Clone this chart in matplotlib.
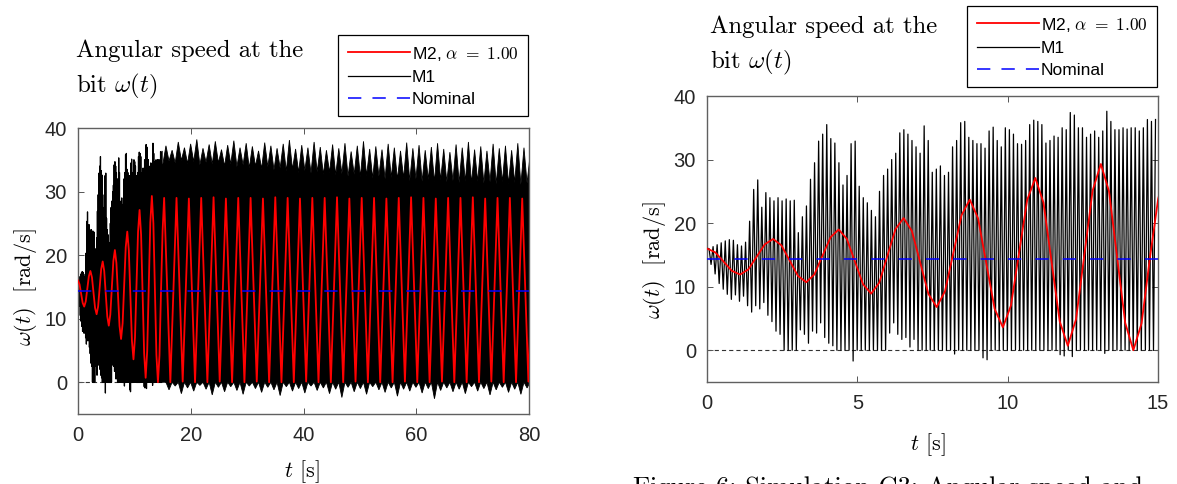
import numpy as np
import matplotlib
matplotlib.use('Agg')
import matplotlib.pyplot as plt
from matplotlib.lines import Line2D

plt.rcParams['mathtext.fontset'] = 'cm'
plt.rcParams['font.family'] = ['Liberation Sans', 'DejaVu Sans']
plt.rcParams['lines.scale_dashes'] = False
plt.rcParams['axes.unicode_minus'] = False

# ---------------- data ----------------
nominal_speed = 14.4

# M1: one trough and one peak per stick-slip cycle, 0-15 s
m1_period = 0.135
m1_troughs = [16.0, 13.5, 12.0, 10.5, 9.6, 8.8, 8.0,
              8.7, 7.7, 8.5, 7.0, 6.0, 7.0, 6.5, 7.5,
              5.5, 4.5, 3.0, 2.5, 0.0, 0.0, 0.0,
              0.0, 3.2, 2.5, 1.1, 3.0, 2.7, 4.3, 2.0,
              1.1, 0.7, 0.0, 0.0, 0.0, 0.0, -1.7,
              0.0, 0.0, 0.0, 0.0, 0.0, 0.0, 0.0, 0.0,
              2.7, 4.3, 2.5, 1.7, 2.0, 0.5, 1.7,
              0.0, 0.0, 0.0, 0.0, 0.0, 0.0, 0.0, 0.0,
              0.0, -0.6, 0.0, 0.0, 0.0, 0.0, 0.0,
              0.0, -1.2, -1.5, 0.0, 0.0, 0.0, 0.0, 0.0,
              0.0, 0.0, 0.0, 0.0, 0.0, 0.0, 0.0,
              0.0, 0.0, 0.0, 0.0, 0.0, -0.7, -0.9, 0.0,
              -1.0, 0.0, 0.0, 0.0, 0.0, 0.0, 0.0,
              0.0, -0.5, 0.0, 0.0, 0.0, 0.0, 0.0,
              0.0, 0.0, 0.0, 0.0, 0.0, 0.0, 0.0]
m1_peaks = [16.0, 16.3, 16.6, 16.9, 17.2, 17.4, 17.3,
            16.6, 16.4, 17.0, 20.3, 25.3, 26.8, 22.5, 24.8,
            24.0, 23.5, 24.0, 23.5, 23.8, 23.5, 23.6,
            18.5, 21.0, 22.7, 26.9, 29.5, 32.9, 34.0, 35.5,
            33.3, 32.6, 29.5, 26.0, 27.5, 32.5, 32.9,
            25.8, 24.0, 23.2, 22.0, 21.0, 25.0, 27.5, 28.5,
            30.0, 31.0, 34.2, 34.7, 34.0, 33.0, 32.0,
            31.0, 35.3, 33.0, 28.0, 28.5, 29.0, 27.5, 28.0,
            32.0, 33.0, 35.8, 36.0, 33.5, 33.0, 32.5,
            32.5, 31.8, 34.5, 35.1, 33.0, 32.0, 35.0, 34.7,
            34.0, 32.5, 32.4, 33.0, 35.5, 36.2, 36.0,
            35.5, 32.6, 33.0, 33.7, 33.5, 35.0, 34.7, 37.4,
            37.0, 35.0, 35.0, 33.5, 34.0, 34.5, 33.5,
            34.5, 37.6, 36.0, 34.7, 34.7, 35.0, 34.8,
            35.0, 35.0, 34.5, 35.0, 36.3, 36.0, 36.3]

# M1 beyond 15 s (only visible as a dense band in the 80 s view):
# band top between spikes, spike tops, band floor and dips below zero
m1_band_floor = 0.0
m1_spike_start = 15.6
m1_spike_step = 1.095
m1_band_top = [34.3, 34.8, 34.5, 34.9, 34.4, 34.7, 34.2, 34.6, 34.3, 34.5,
               34.0, 34.3, 33.9, 34.2, 33.7, 34.0, 33.6, 33.9, 33.4, 33.7,
               33.2, 33.5, 33.0, 33.3, 32.9, 33.1, 32.7, 33.0, 32.6, 32.8,
               32.4, 32.7, 32.3, 32.5, 32.1, 32.4, 32.0, 32.2, 31.9, 32.1,
               31.7, 32.0, 31.6, 31.9, 31.5, 31.8, 31.5, 31.7, 31.4, 31.6,
               31.3, 31.6, 31.3, 31.5, 31.2, 31.5, 31.2, 31.4, 31.1, 31.3]
m1_spike_hi = [37.2, 36.5, 37.8, 36.9, 37.5, 38.2, 36.8, 37.4, 37.9, 36.6,
               37.3, 38.0, 36.9, 37.6, 37.1, 36.4, 37.7, 37.2, 36.8, 37.5,
               38.1, 36.7, 37.3, 36.9, 37.8, 37.0, 36.5, 37.4, 36.8, 37.6,
               36.3, 37.2, 37.9, 36.7, 37.1, 36.6, 37.5, 36.9, 36.4, 37.7,
               36.8, 37.3, 36.5, 37.0, 37.6, 36.7, 36.2, 37.4, 36.9, 37.8,
               36.6, 37.1, 36.4, 37.5, 36.8, 37.2, 36.5, 37.6, 36.9, 35.8]
m1_spike_lo = [-1.2, -0.6, -1.8, -0.9, -1.4, -0.5, -1.1, -2.0, -0.8, -1.5,
               -0.7, -1.3, -1.9, -0.6, -1.0, -1.6, -0.8, -1.2, -2.1, -0.7,
               -1.4, -1.0, -1.7, -0.6, -1.3, -0.9, -1.8, -1.1, -2.4, -0.8,
               -1.5, -1.0, -1.9, -0.7, -1.2, -1.6, -0.9, -2.2, -1.1, -1.4,
               -0.8, -1.7, -1.0, -2.6, -1.3, -0.9, -1.5, -1.1, -1.8, -0.7,
               -1.4, -1.0, -2.0, -1.2, -0.8, -1.6, -1.1, -1.9, -0.9, -1.3]

# M2 (alpha = 1.00), 0-15.3 s read densely
m2_t = [0.0, 0.275, 0.55, 0.825, 1.1, 1.375, 1.65, 1.925, 2.2,
        2.475, 2.75, 3.025, 3.3, 3.57, 3.84, 4.11, 4.38,
        4.65, 4.92, 5.19, 5.46, 5.73, 6.0, 6.27, 6.54,
        6.815, 7.09, 7.365, 7.64, 7.915, 8.19, 8.465, 8.74,
        9.015, 9.29, 9.565, 9.84, 10.11, 10.38, 10.65, 10.92,
        11.19, 11.46, 11.73, 12.0, 12.275, 12.55, 12.825, 13.1,
        13.37, 13.64, 13.91, 14.18, 14.455, 14.73, 15.005, 15.28]
m2_v = [16.0, 15.4, 13.95, 12.5, 11.9, 12.72, 14.7, 16.68, 17.5,
        16.5, 14.1, 11.7, 10.7, 11.92, 14.85, 17.78, 19.0,
        17.52, 13.95, 10.38, 8.9, 10.64, 14.85, 19.06, 20.8,
        18.75, 13.8, 8.85, 6.8, 9.27, 15.25, 21.23, 23.7,
        20.76, 13.65, 6.54, 3.6, 7.04, 15.35, 23.66, 27.1,
        23.23, 13.9, 4.57, 0.7, 4.89, 15.0, 25.11, 29.3,
        25.01, 14.65, 4.29, 0.0, 4.25, 14.5, 23.8, 29.0]
# M2 beyond 15.3 s: alternating troughs / peaks every half period
m2_tail_start = 16.38
m2_tail_half = 1.095
m2_tail_troughs = [0.0, 0.1, 0.0, 0.0, 0.1, 0.0, 0.0, 0.1, 0.0, 0.0,
                   0.0, 0.1, 0.0, 0.0, 0.0, 0.1, 0.0, 0.0, 0.0, 0.1,
                   0.0, 0.0, 0.1, 0.0, 0.0, 0.0, 0.1, 0.0, 0.0, 0.1]
m2_tail_peaks = [29.0, 28.9, 29.0, 29.1, 28.9, 29.0, 29.0, 28.9, 29.1, 29.0,
                 28.9, 29.0, 29.0, 29.1, 28.9, 29.0, 29.0, 28.9, 29.0, 29.1,
                 29.0, 28.9, 29.0, 29.0, 29.1, 28.9, 29.0, 29.0, 28.9, 29.0]

# ---------------- assemble series ----------------
def interleave(a, b):
    out = np.empty(len(a) + len(b))
    out[0::2] = a
    out[1::2] = b
    return out


n1 = len(m1_peaks)
cyc = np.arange(n1) * m1_period
m1_t = interleave(cyc, cyc + m1_period / 2)
m1_v = interleave(m1_troughs, m1_peaks)

nt = len(m2_tail_peaks)
tail_t = m2_tail_start + np.arange(2 * nt) * m2_tail_half
tail_v = interleave(m2_tail_troughs, m2_tail_peaks)
m2_all_t = np.concatenate([m2_t, tail_t])
m2_all_v = np.concatenate([m2_v, tail_v])

ns = len(m1_spike_hi)
sp_t = m1_spike_start + np.arange(ns) * m1_spike_step
up_t = np.concatenate([[14.9], interleave(sp_t - m1_spike_step / 2, sp_t), [80.5]])
up_v = np.concatenate([[m1_band_top[0]], interleave(m1_band_top, m1_spike_hi), [m1_band_top[-1]]])
dip_t = sp_t + m1_spike_step / 2
lo_t = np.concatenate([[14.9], interleave(dip_t - m1_spike_step / 2, dip_t), [80.5]])
lo_v = np.concatenate([[m1_band_floor], interleave(np.full(ns, m1_band_floor), m1_spike_lo),
                       [m1_band_floor]])
band_x = np.concatenate([up_t, lo_t[::-1]])
band_y = np.concatenate([up_v, lo_v[::-1]])

# ---------------- figure ----------------
W, H = 1177, 484
fig = plt.figure(figsize=(W / 100, H / 100), dpi=100)


def fy(py):
    return 1 - py / H


axL = fig.add_axes([78 / W, 1 - 414 / H, 451 / W, 286 / H])
axR = fig.add_axes([707 / W, 1 - 382 / H, 451 / W, 286 / H])

RED = '#FF0000'
BLUE = '#0000FF'
nom_dash = (0, (9.6, 10.1))


def draw(ax, xmax, xticks, dense_band):
    ax.axhline(0, color='#333333', lw=0.8, ls=(0, (3.0, 2.2)), zorder=1)
    ax.plot(m1_t, m1_v, color='black', lw=0.9, zorder=2)
    if dense_band:
        ax.fill(band_x, band_y, color='black', lw=0.6, ec='black', zorder=2)
    ax.plot(m2_all_t, m2_all_v, color=RED, lw=1.3, zorder=3)
    ax.axhline(nominal_speed, color=BLUE, lw=1.1, ls=nom_dash, zorder=4)
    ax.set_xlim(0, xmax)
    ax.set_ylim(-5, 40)
    ax.set_xticks(xticks)
    ax.set_yticks([0, 10, 20, 30, 40])
    ax.tick_params(direction='in', length=4.5, width=0.7, color='#555555',
                   top=True, right=True, labelsize=14.5, labelcolor='#262626')
    ax.tick_params(axis='y', pad=8)
    ax.tick_params(axis='x', pad=8.5)
    for s in ax.spines.values():
        s.set_color('#606060')
        s.set_linewidth(1.0)


draw(axL, 80, [0, 20, 40, 60, 80], True)
draw(axR, 15, [0, 5, 10, 15], False)

serif = 'cmr10'
label_fs = 16
title_fs = 17.8

# titles
fig.text(76 / W, fy(57), 'Angular speed at the', family=serif, fontsize=title_fs, va='baseline')
fig.text(76 / W, fy(92), r'bit $\omega(t)$', family=serif, fontsize=title_fs, va='baseline')
fig.text(710 / W, fy(33), 'Angular speed at the', family=serif, fontsize=title_fs, va='baseline')
fig.text(710 / W, fy(68.5), r'bit $\omega(t)$', family=serif, fontsize=title_fs, va='baseline')

# axis labels
fig.text(25.5 / W, fy(287), r'$\omega(t)$  [rad/s]', family=serif, fontsize=label_fs,
         rotation=90, ha='center', va='center')
fig.text(654 / W, fy(260), r'$\omega(t)$  [rad/s]', family=serif, fontsize=label_fs,
         rotation=90, ha='center', va='center')
fig.text(302 / W, fy(472), r'$t$ [s]', family=serif, fontsize=label_fs, ha='center', va='center')
fig.text(928 / W, fy(445), r'$t$ [s]', family=serif, fontsize=label_fs, ha='center', va='center')

# caption (cropped at the bottom of the image, as in the reference)
fig.text(633 / W, fy(495), 'Figure 6: Simulation C3: Angular speed and', family=serif,
         fontsize=19, va='baseline')

# legends
handles = [Line2D([], [], color=RED, lw=1.3),
           Line2D([], [], color='black', lw=0.9),
           Line2D([], [], color=BLUE, lw=1.1, ls=(0, (9.6, 8.0)))]
labels = [r'M2, $\alpha\ =\ 1.00$', 'M1', 'Nominal']
for right, top in [(528, 35), (1157, 6)]:
    leg = fig.legend(handles, labels, loc='upper right', bbox_to_anchor=(right / W, fy(top)),
                     bbox_transform=fig.transFigure, fontsize=12.5, handlelength=3.6,
                     handletextpad=0.08, borderpad=0.55, labelspacing=0.4, borderaxespad=0,
                     fancybox=False, framealpha=1, edgecolor='black')
    leg.get_frame().set_linewidth(0.9)

fig.savefig('out.png', dpi=100)
